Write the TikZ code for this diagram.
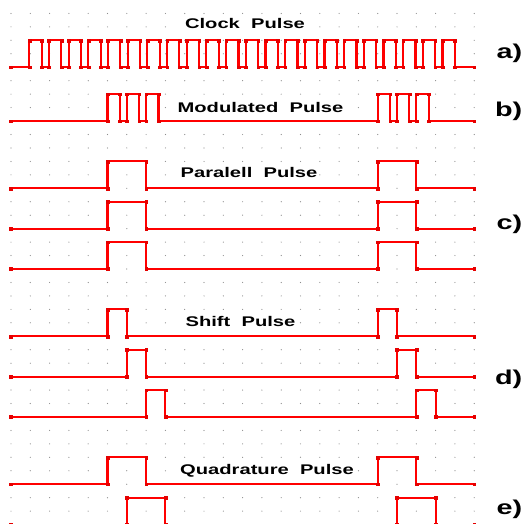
\documentclass[tikz,border=0pt]{standalone}
\usepackage{fontspec}
\newfontfamily\wavefont[FakeStretch=1.44]{Liberation Sans}
\usetikzlibrary{plotmarks}

\begin{document}
\begin{tikzpicture}[
	x=1pt, y=-1pt,
	dot/.style={fill=black!45},
	wave/.style={red, line width=2.1pt, mark=square*, mark size=1.4pt, mark options={solid, line width=0.3pt, fill=red!90!black, draw=red!90!black}},
	title/.style={font=\wavefont\bfseries\fontsize{14}{14}\selectfont, fill=white, inner sep=1.5pt, anchor=base},
	tag/.style={font=\wavefont\bfseries\fontsize{20}{20}\selectfont, inner sep=0pt, anchor=base east}
	]
	\useasboundingbox (0,0) rectangle (523,524);
	\clip (0,0) rectangle (523,524);
	\begin{scope}[shift={(11,0)}, x=19.3pt, y=-13.45pt]
		\foreach \k in {0,...,24}
			\foreach \j in {1,...,38}
				\fill[dot] (\k,\j) circle (0.6pt);
		% clock
		\def\clk{(0,5)}
		\foreach \i in {0,...,21} {
			\pgfmathsetmacro\ra{0.95+\i*1.0195}
			\pgfmathsetmacro\fa{\ra+0.64}
			\xdef\clk{\clk (\ra,5) (\ra,3) (\fa,3) (\fa,5)}
		}
		\xdef\clk{\clk (24,5)}
		\edef\clkpath{\noexpand\draw[wave] plot coordinates {\clk};}
		\clkpath
		% modulated
		\draw[wave] plot coordinates {(0,9) (5,9) (5,7) (5.64,7) (5.64,9) (6,9) (6,7) (6.64,7) (6.64,9) (7,9) (7,7) (7.64,7) (7.64,9)
			(19,9) (19,7) (19.64,7) (19.64,9) (20,9) (20,7) (20.64,7) (20.64,9) (21,9) (21,7) (21.64,7) (21.64,9) (24,9)};
		% parallel
		\foreach \j in {14,17,20}
			\draw[wave] plot coordinates {(0,\j) (5,\j) (5,\j-2) (7,\j-2) (7,\j) (19,\j) (19,\j-2) (21,\j-2) (21,\j) (24,\j)};
		% shift
		\foreach \j/\s in {25/0,28/1,31/2}
			\draw[wave] plot coordinates {(0,\j) (5+\s,\j) (5+\s,\j-2) (6+\s,\j-2) (6+\s,\j) (19+\s,\j) (19+\s,\j-2) (20+\s,\j-2) (20+\s,\j) (24,\j)};
		% quadrature
		\foreach \j/\s in {36/0,39/1}
			\draw[wave] plot coordinates {(0,\j) (5+\s,\j) (5+\s,\j-2) (7+\s,\j-2) (7+\s,\j) (19+\s,\j) (19+\s,\j-2) (21+\s,\j-2) (21+\s,\j) (24,\j)};
	\end{scope}
	\node[title] (clock) at (245,29) {Clock\ \ Pulse};
	\node[title] (modul) at (260.5,112.3) {Modulated\ \ Pulse};
	\node[title] (paral) at (249,177.3) {Paralell\ \ Pulse};
	\node[title] (shift) at (240.5,326.7) {Shift\ \ Pulse};
	\node[title] (quadr) at (267,474) {Quadrature\ \ Pulse};
	\node[tag] (ta) at (522.5,58.1) {a)};
	\node[tag] (tb) at (522.5,116.5) {b)};
	\node[tag] (tc) at (522.5,229.5) {c)};
	\node[tag] (td) at (522.5,384) {d)};
	\node[tag] (te) at (522.5,514) {e)};
\end{tikzpicture}
\end{document}
